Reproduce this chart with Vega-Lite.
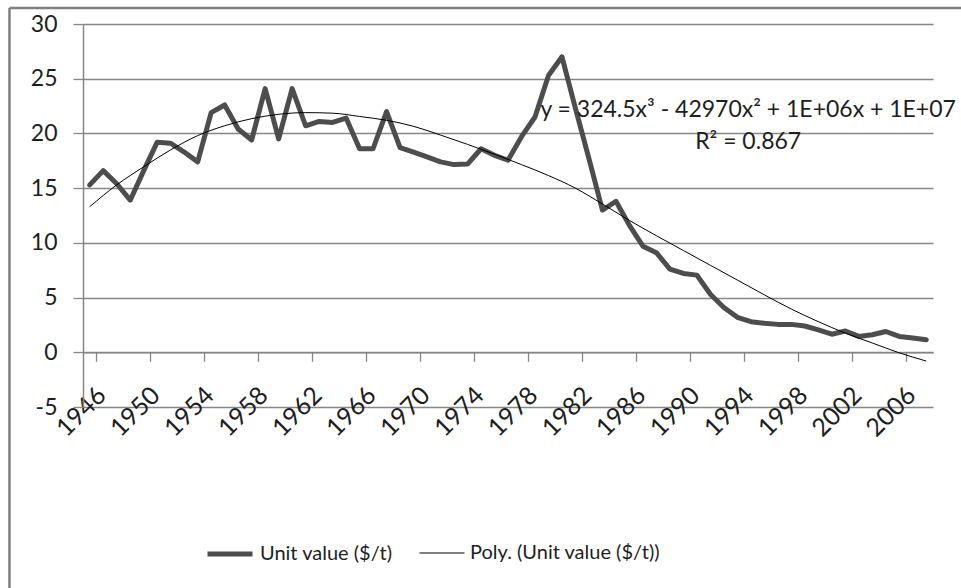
{
  "$schema": "https://vega.github.io/schema/vega-lite/v6.json",
  "width": 850,
  "height": 383,
  "autosize": {"type": "none"},
  "padding": {"left": 83, "top": 24, "right": 28, "bottom": 181},
  "background": "#ffffff",
  "config": {
    "view": {"stroke": null},
    "font": "Lato",
    "axis": {"labelFont": "Lato", "labelColor": "#1e1e1e", "domainColor": "#868686", "tickColor": "#868686", "gridColor": "#868686", "domainWidth": 1.5, "tickWidth": 1.3, "gridWidth": 1.3}
  },
  "datasets": {
    "units": [
      {"year": 1946, "value": 15.3, "series": "Unit value ($/t)"},
      {"year": 1947, "value": 16.6, "series": "Unit value ($/t)"},
      {"year": 1948, "value": 15.4, "series": "Unit value ($/t)"},
      {"year": 1949, "value": 13.9, "series": "Unit value ($/t)"},
      {"year": 1950, "value": 16.6, "series": "Unit value ($/t)"},
      {"year": 1951, "value": 19.2, "series": "Unit value ($/t)"},
      {"year": 1952, "value": 19.1, "series": "Unit value ($/t)"},
      {"year": 1953, "value": 18.3, "series": "Unit value ($/t)"},
      {"year": 1954, "value": 17.4, "series": "Unit value ($/t)"},
      {"year": 1955, "value": 21.9, "series": "Unit value ($/t)"},
      {"year": 1956, "value": 22.6, "series": "Unit value ($/t)"},
      {"year": 1957, "value": 20.4, "series": "Unit value ($/t)"},
      {"year": 1958, "value": 19.4, "series": "Unit value ($/t)"},
      {"year": 1959, "value": 24.1, "series": "Unit value ($/t)"},
      {"year": 1960, "value": 19.5, "series": "Unit value ($/t)"},
      {"year": 1961, "value": 24.1, "series": "Unit value ($/t)"},
      {"year": 1962, "value": 20.7, "series": "Unit value ($/t)"},
      {"year": 1963, "value": 21.1, "series": "Unit value ($/t)"},
      {"year": 1964, "value": 21.0, "series": "Unit value ($/t)"},
      {"year": 1965, "value": 21.4, "series": "Unit value ($/t)"},
      {"year": 1966, "value": 18.6, "series": "Unit value ($/t)"},
      {"year": 1967, "value": 18.6, "series": "Unit value ($/t)"},
      {"year": 1968, "value": 22.0, "series": "Unit value ($/t)"},
      {"year": 1969, "value": 18.7, "series": "Unit value ($/t)"},
      {"year": 1970, "value": 18.3, "series": "Unit value ($/t)"},
      {"year": 1971, "value": 17.85, "series": "Unit value ($/t)"},
      {"year": 1972, "value": 17.4, "series": "Unit value ($/t)"},
      {"year": 1973, "value": 17.15, "series": "Unit value ($/t)"},
      {"year": 1974, "value": 17.2, "series": "Unit value ($/t)"},
      {"year": 1975, "value": 18.6, "series": "Unit value ($/t)"},
      {"year": 1976, "value": 18.0, "series": "Unit value ($/t)"},
      {"year": 1977, "value": 17.55, "series": "Unit value ($/t)"},
      {"year": 1978, "value": 19.7, "series": "Unit value ($/t)"},
      {"year": 1979, "value": 21.5, "series": "Unit value ($/t)"},
      {"year": 1980, "value": 25.3, "series": "Unit value ($/t)"},
      {"year": 1981, "value": 27.0, "series": "Unit value ($/t)"},
      {"year": 1982, "value": 22.3, "series": "Unit value ($/t)"},
      {"year": 1983, "value": 17.7, "series": "Unit value ($/t)"},
      {"year": 1984, "value": 13.0, "series": "Unit value ($/t)"},
      {"year": 1985, "value": 13.8, "series": "Unit value ($/t)"},
      {"year": 1986, "value": 11.6, "series": "Unit value ($/t)"},
      {"year": 1987, "value": 9.7, "series": "Unit value ($/t)"},
      {"year": 1988, "value": 9.1, "series": "Unit value ($/t)"},
      {"year": 1989, "value": 7.6, "series": "Unit value ($/t)"},
      {"year": 1990, "value": 7.2, "series": "Unit value ($/t)"},
      {"year": 1991, "value": 7.05, "series": "Unit value ($/t)"},
      {"year": 1992, "value": 5.3, "series": "Unit value ($/t)"},
      {"year": 1993, "value": 4.1, "series": "Unit value ($/t)"},
      {"year": 1994, "value": 3.2, "series": "Unit value ($/t)"},
      {"year": 1995, "value": 2.8, "series": "Unit value ($/t)"},
      {"year": 1996, "value": 2.65, "series": "Unit value ($/t)"},
      {"year": 1997, "value": 2.55, "series": "Unit value ($/t)"},
      {"year": 1998, "value": 2.55, "series": "Unit value ($/t)"},
      {"year": 1999, "value": 2.4, "series": "Unit value ($/t)"},
      {"year": 2000, "value": 2.05, "series": "Unit value ($/t)"},
      {"year": 2001, "value": 1.65, "series": "Unit value ($/t)"},
      {"year": 2002, "value": 1.95, "series": "Unit value ($/t)"},
      {"year": 2003, "value": 1.45, "series": "Unit value ($/t)"},
      {"year": 2004, "value": 1.6, "series": "Unit value ($/t)"},
      {"year": 2005, "value": 1.9, "series": "Unit value ($/t)"},
      {"year": 2006, "value": 1.45, "series": "Unit value ($/t)"},
      {"year": 2007, "value": 1.3, "series": "Unit value ($/t)"},
      {"year": 2008, "value": 1.15, "series": "Unit value ($/t)"}
    ],
    "trend": [
      {"year": 1946, "value": 13.3, "series": "Poly. (Unit value ($/t))"},
      {"year": 1948, "value": 15.3, "series": "Poly. (Unit value ($/t))"},
      {"year": 1950, "value": 16.95, "series": "Poly. (Unit value ($/t))"},
      {"year": 1952, "value": 18.5, "series": "Poly. (Unit value ($/t))"},
      {"year": 1954, "value": 19.8, "series": "Poly. (Unit value ($/t))"},
      {"year": 1956, "value": 20.7, "series": "Poly. (Unit value ($/t))"},
      {"year": 1958, "value": 21.35, "series": "Poly. (Unit value ($/t))"},
      {"year": 1960, "value": 21.75, "series": "Poly. (Unit value ($/t))"},
      {"year": 1962, "value": 21.9, "series": "Poly. (Unit value ($/t))"},
      {"year": 1964, "value": 21.85, "series": "Poly. (Unit value ($/t))"},
      {"year": 1966, "value": 21.55, "series": "Poly. (Unit value ($/t))"},
      {"year": 1968, "value": 21.2, "series": "Poly. (Unit value ($/t))"},
      {"year": 1970, "value": 20.65, "series": "Poly. (Unit value ($/t))"},
      {"year": 1972, "value": 19.85, "series": "Poly. (Unit value ($/t))"},
      {"year": 1974, "value": 19.0, "series": "Poly. (Unit value ($/t))"},
      {"year": 1976, "value": 18.1, "series": "Poly. (Unit value ($/t))"},
      {"year": 1978, "value": 17.15, "series": "Poly. (Unit value ($/t))"},
      {"year": 1980, "value": 16.15, "series": "Poly. (Unit value ($/t))"},
      {"year": 1982, "value": 15.0, "series": "Poly. (Unit value ($/t))"},
      {"year": 1984, "value": 13.55, "series": "Poly. (Unit value ($/t))"},
      {"year": 1986, "value": 12.05, "series": "Poly. (Unit value ($/t))"},
      {"year": 1988, "value": 10.65, "series": "Poly. (Unit value ($/t))"},
      {"year": 1990, "value": 9.3, "series": "Poly. (Unit value ($/t))"},
      {"year": 1992, "value": 7.95, "series": "Poly. (Unit value ($/t))"},
      {"year": 1994, "value": 6.6, "series": "Poly. (Unit value ($/t))"},
      {"year": 1996, "value": 5.25, "series": "Poly. (Unit value ($/t))"},
      {"year": 1998, "value": 3.95, "series": "Poly. (Unit value ($/t))"},
      {"year": 2000, "value": 2.8, "series": "Poly. (Unit value ($/t))"},
      {"year": 2002, "value": 1.75, "series": "Poly. (Unit value ($/t))"},
      {"year": 2004, "value": 0.85, "series": "Poly. (Unit value ($/t))"},
      {"year": 2006, "value": -0.05, "series": "Poly. (Unit value ($/t))"},
      {"year": 2008, "value": -0.8, "series": "Poly. (Unit value ($/t))"}
    ]
  },
  "layer": [
    {
      "data": {"values": [{}]},
      "mark": {"type": "rule", "color": "#7f7f7f", "strokeWidth": 2.5},
      "encoding": {"x": {"datum": 1940.05, "type": "quantitative"}, "y": {"datum": 31.46, "type": "quantitative"}, "y2": {"datum": -22}}
    },
    {
      "data": {"values": [{}]},
      "mark": {"type": "rule", "color": "#7f7f7f", "strokeWidth": 2.5},
      "encoding": {"y": {"datum": 31.46, "type": "quantitative"}, "x": {"datum": 1940.05, "type": "quantitative"}, "x2": {"datum": 2011}}
    },
    {
      "data": {"name": "units"},
      "mark": {"type": "line", "strokeJoin": "round", "strokeCap": "round"},
      "encoding": {
        "x": {
          "field": "year", "type": "quantitative",
          "scale": {"domain": [1945.5, 2008.5], "nice": false, "zero": false},
          "axis": {
            "title": null, "orient": "bottom", "offset": -54.7, "grid": false,
            "values": [1946,1947,1948,1949,1950,1951,1952,1953,1954,1955,1956,1957,1958,1959,1960,1961,1962,1963,1964,1965,1966,1967,1968,1969,1970,1971,1972,1973,1974,1975,1976,1977,1978,1979,1980,1981,1982,1983,1984,1985,1986,1987,1988,1989,1990,1991,1992,1993,1994,1995,1996,1997,1998,1999,2000,2001,2002,2003,2004,2005,2006,2007,2008],
            "format": "d",
            "labelExpr": "(datum.value - 1946) % 4 === 0 ? datum.label : ''",
            "tickOffset": 6.746, "labelOffset": -3.5, "tickSize": 9,
            "labelAngle": -45, "labelAlign": "right", "labelBaseline": "top",
            "labelPadding": 21, "labelFontSize": 25, "labelOverlap": false, "labelFlush": false, "labelBound": false
          }
        },
        "y": {
          "field": "value", "type": "quantitative",
          "scale": {"domain": [-5, 30], "nice": false, "zero": false},
          "axis": {"title": null, "values": [-5, 0, 5, 10, 15, 20, 25, 30], "labelExpr": "datum.value < 0 ? '-' + abs(datum.value) : datum.label", "tickSize": 10, "labelPadding": 16, "labelFontSize": 23, "grid": true}
        },
        "color": {
          "field": "series", "type": "nominal",
          "scale": {"domain": ["Unit value ($/t)", "Poly. (Unit value ($/t))"], "range": ["#4d4d4d", "#000000"]},
          "legend": {
            "orient": "none", "legendX": 122, "legendY": 505, "direction": "horizontal", "title": null,
            "symbolType": "stroke", "symbolSize": 2025, "labelFont": "Lato", "labelFontSize": 20, "labelColor": "#1e1e1e",
            "labelOffset": 5, "columnPadding": 24, "labelLimit": 400
          }
        },
        "strokeWidth": {
          "field": "series", "type": "ordinal",
          "scale": {"domain": ["Unit value ($/t)", "Poly. (Unit value ($/t))"], "range": [5, 1]},
          "legend": {
            "orient": "none", "legendX": 122, "legendY": 505, "direction": "horizontal", "title": null,
            "symbolType": "stroke", "symbolSize": 2025, "labelFont": "Lato", "labelFontSize": 20, "labelColor": "#1e1e1e",
            "labelOffset": 5, "columnPadding": 24, "labelLimit": 400
          }
        }
      }
    },
    {
      "data": {"name": "trend"},
      "mark": {"type": "line", "interpolate": "monotone"},
      "encoding": {
        "x": {"field": "year", "type": "quantitative"},
        "y": {"field": "value", "type": "quantitative"},
        "color": {"field": "series", "type": "nominal"},
        "strokeWidth": {"field": "series", "type": "ordinal"}
      }
    },
    {
      "data": {"values": [{}]},
      "mark": {"type": "text", "text": "y = 324.5x³ - 42970x² + 1E+06x + 1E+07", "font": "Lato", "fontSize": 23, "align": "center", "baseline": "alphabetic", "color": "#1e1e1e"},
      "encoding": {"x": {"datum": 1994.8, "type": "quantitative"}, "y": {"datum": 21.5, "type": "quantitative"}}
    },
    {
      "data": {"values": [{}]},
      "mark": {"type": "text", "text": "R² = 0.867", "font": "Lato", "fontSize": 23, "align": "center", "baseline": "alphabetic", "color": "#1e1e1e"},
      "encoding": {"x": {"datum": 1994.8, "type": "quantitative"}, "y": {"datum": 18.61, "type": "quantitative"}}
    }
  ]
}
